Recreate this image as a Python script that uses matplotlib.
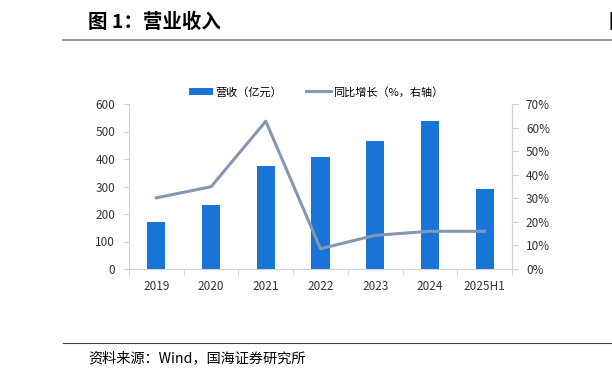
import matplotlib.pyplot as plt
import numpy as np

plt.rcParams['font.family'] = ['Noto Sans CJK SC', 'DejaVu Sans']

years = ['2019', '2020', '2021', '2022', '2023', '2024', '2025H1']
revenue = [172, 232, 376, 407, 464, 539, 290]
growth = [30.2, 34.9, 62.7, 8.6, 14.3, 16.0, 16.0]

bar_color = '#1874D6'
line_color = '#8497B0'
axis_color = '#D0D0D0'

fig = plt.figure(figsize=(6.12, 3.81), dpi=100)

# header / footer
fig.text(88/612, 1-22/381, '图 1：营业收入', fontsize=14, fontweight='bold', va='center', ha='left')
fig.text(608/612, 1-22/381, '国', fontsize=14, fontweight='bold', va='center', ha='left')
fig.add_artist(plt.Line2D([63/612, 1], [1-40/381, 1-40/381], color='#808080', lw=1.2))
fig.add_artist(plt.Line2D([63/612, 1], [1-343/381, 1-343/381], color='#404040', lw=0.8))
fig.text(88/612, 1-358/381, '资料来源：Wind，国海证券研究所', fontsize=10.2, va='center', ha='left')

ax = fig.add_axes([129/612, 1-269/381, (512-129)/612, (269-104)/381])
x = np.arange(len(years))
bars = ax.bar(x, revenue, width=0.33, color=bar_color, zorder=2)
ax.set_ylim(0, 600)
ax.set_xlim(-0.5, len(years)-0.5)
ax.set_yticks(range(0, 601, 100))
ax.set_xticks(x)
ax.set_xticklabels(years)
ax.set_xticks(np.arange(-0.5, len(years), 1), minor=True)
ax.tick_params(axis='x', which='major', length=0, pad=8)
ax.tick_params(axis='x', which='minor', length=4, color=axis_color)
ax.tick_params(axis='y', length=4, color=axis_color, pad=6)
ax.tick_params(labelsize=8.5, labelcolor='#333333')
ax.spines['top'].set_visible(False)
for s in ['left', 'right', 'bottom']:
    ax.spines[s].set_color(axis_color)

ax2 = ax.twinx()
ln, = ax2.plot(x, growth, color=line_color, lw=2.2, zorder=3)
ax2.set_ylim(0, 70)
ax2.set_yticks(range(0, 71, 10))
ax2.set_yticklabels([f'{v}%' for v in range(0, 71, 10)])
ax2.tick_params(axis='y', length=4, color=axis_color, labelsize=8.5, labelcolor='#333333', pad=6)
for s in ['top', 'left', 'bottom']:
    ax2.spines[s].set_visible(False)
ax2.spines['right'].set_color(axis_color)

fig.legend([bars, ln], ['营收（亿元）', '同比增长（%，右轴）'], loc='center',
           bbox_to_anchor=(316/612, 1-92/381), ncol=2, frameon=False, fontsize=8,
           handlelength=2.2, handleheight=0.7, columnspacing=2.2, handletextpad=0.2)

fig.savefig('out.png', dpi=100)
